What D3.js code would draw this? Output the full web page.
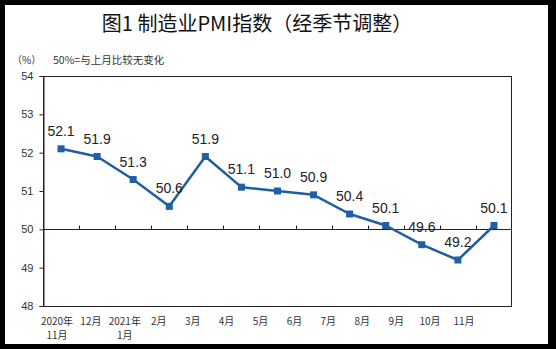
<!DOCTYPE html>
<html><head><meta charset="utf-8">
<script src="https://cdn.jsdelivr.net/npm/d3@7"></script>
<style>html,body{margin:0;padding:0;background:#000;}svg{display:block;}</style>
</head><body>
<script>
const categories = ["2020年\n11月","12月","2021年\n1月","2月","3月","4月","5月","6月","7月","8月","9月","10月","11月"];
const pmiValues = [52.1,51.9,51.3,50.6,51.9,51.1,51.0,50.9,50.4,50.1,49.6,49.2,50.1];
const yTicks = [48,49,50,51,52,53,54];
const titleText = "图1 制造业PMI指数（经季节调整）";
const unitText = "（%）";
const noteText = "50%=与上月比较无变化";

(function(){
const W = 556, H = 349;
const svg = d3.select("body").append("svg").attr("width", W).attr("height", H);
svg.append("rect").attr("x",0).attr("y",0).attr("width",W).attr("height",H).attr("fill","#000");
svg.append("rect").attr("x",5).attr("y",5).attr("width",543).attr("height",339).attr("fill","#fff");

const pL = 43, pR = 512, pT = 76, pB = 306;
const x = d3.scaleBand().domain(categories).range([pL, pR]).paddingInner(0).paddingOuter(0);
const xLab = d3.scalePoint().domain(categories).range([57, 464]);
const y = d3.scaleLinear().domain([48,54]).range([pB, pT]);

svg.append("text").attr("x", 257).attr("y", 31).attr("text-anchor","middle")
  .attr("font-family","'Noto Sans CJK SC', sans-serif").attr("font-size", 20).attr("font-weight", 400)
  .attr("fill","#111").text(titleText);
svg.append("text").attr("x", 12).attr("y", 64)
  .attr("font-family","'Noto Sans CJK SC', sans-serif").attr("font-size", 10).attr("fill","#333").text(unitText);
svg.append("text").attr("x", 53).attr("y", 64)
  .attr("font-family","'Noto Sans CJK SC', sans-serif").attr("font-size", 10.5).attr("fill","#333").text(noteText);

svg.append("rect").attr("x", pL+0.5).attr("y", pT+0.5).attr("width", pR-pL-1).attr("height", pB-pT)
  .attr("fill","none").attr("stroke","#222").attr("stroke-width",1);

const yAxis = d3.axisLeft(y).tickValues(yTicks).tickSize(4).tickPadding(6).tickFormat(d3.format("d"));
const gy = svg.append("g").attr("transform", `translate(${pL+0.5},0)`).call(yAxis);
gy.select(".domain").attr("stroke","#222");
gy.selectAll(".tick line").attr("stroke","#222");
gy.selectAll(".tick text").attr("font-family","'Liberation Sans', Arial, sans-serif").attr("font-size",11).attr("fill","#333");

const g50 = svg.append("g").attr("transform", `translate(0,${Math.round(y(50))+0.5})`);
g50.append("line").attr("x1", pL).attr("x2", pR).attr("stroke","#222").attr("stroke-width",1);
g50.selectAll("line.tk").data(categories.slice(1)).enter().append("line").attr("class","tk")
  .attr("x1", d => Math.round(x(d))+0.5).attr("x2", d => Math.round(x(d))+0.5)
  .attr("y1", 0).attr("y2", -4).attr("stroke","#222");

const xl = svg.append("g");
categories.forEach(c => {
  c.split("\n").forEach((ln, i) => {
    xl.append("text").attr("x", xLab(c)).attr("y", 325 + i*14).attr("text-anchor","middle")
      .attr("font-family","'Noto Sans CJK SC', sans-serif").attr("font-size", 10).attr("fill","#333").text(ln);
  });
});

const cx = (d,i) => x(categories[i]) + x.bandwidth()/2;
const line = d3.line().x((d,i) => cx(d,i)).y(d => y(d));
svg.append("path").datum(pmiValues).attr("d", line).attr("fill","none")
  .attr("stroke","#1f5f9f").attr("stroke-width",2.5).attr("stroke-linejoin","round");
svg.selectAll("rect.mk").data(pmiValues).enter().append("rect").attr("class","mk")
  .attr("x",(d,i)=>cx(d,i)-3.5).attr("y",d=>y(d)-3.5).attr("width",7).attr("height",7).attr("fill","#1f5fa5");

svg.selectAll("text.vl").data(pmiValues).enter().append("text").attr("class","vl")
  .attr("x",(d,i)=>cx(d,i)).attr("y",d=>y(d)-13).attr("text-anchor","middle")
  .attr("font-family","'Liberation Sans', Arial, sans-serif").attr("font-size",14).attr("fill","#222")
  .text(d=>d.toFixed(1));
})();
</script>
</body></html>
